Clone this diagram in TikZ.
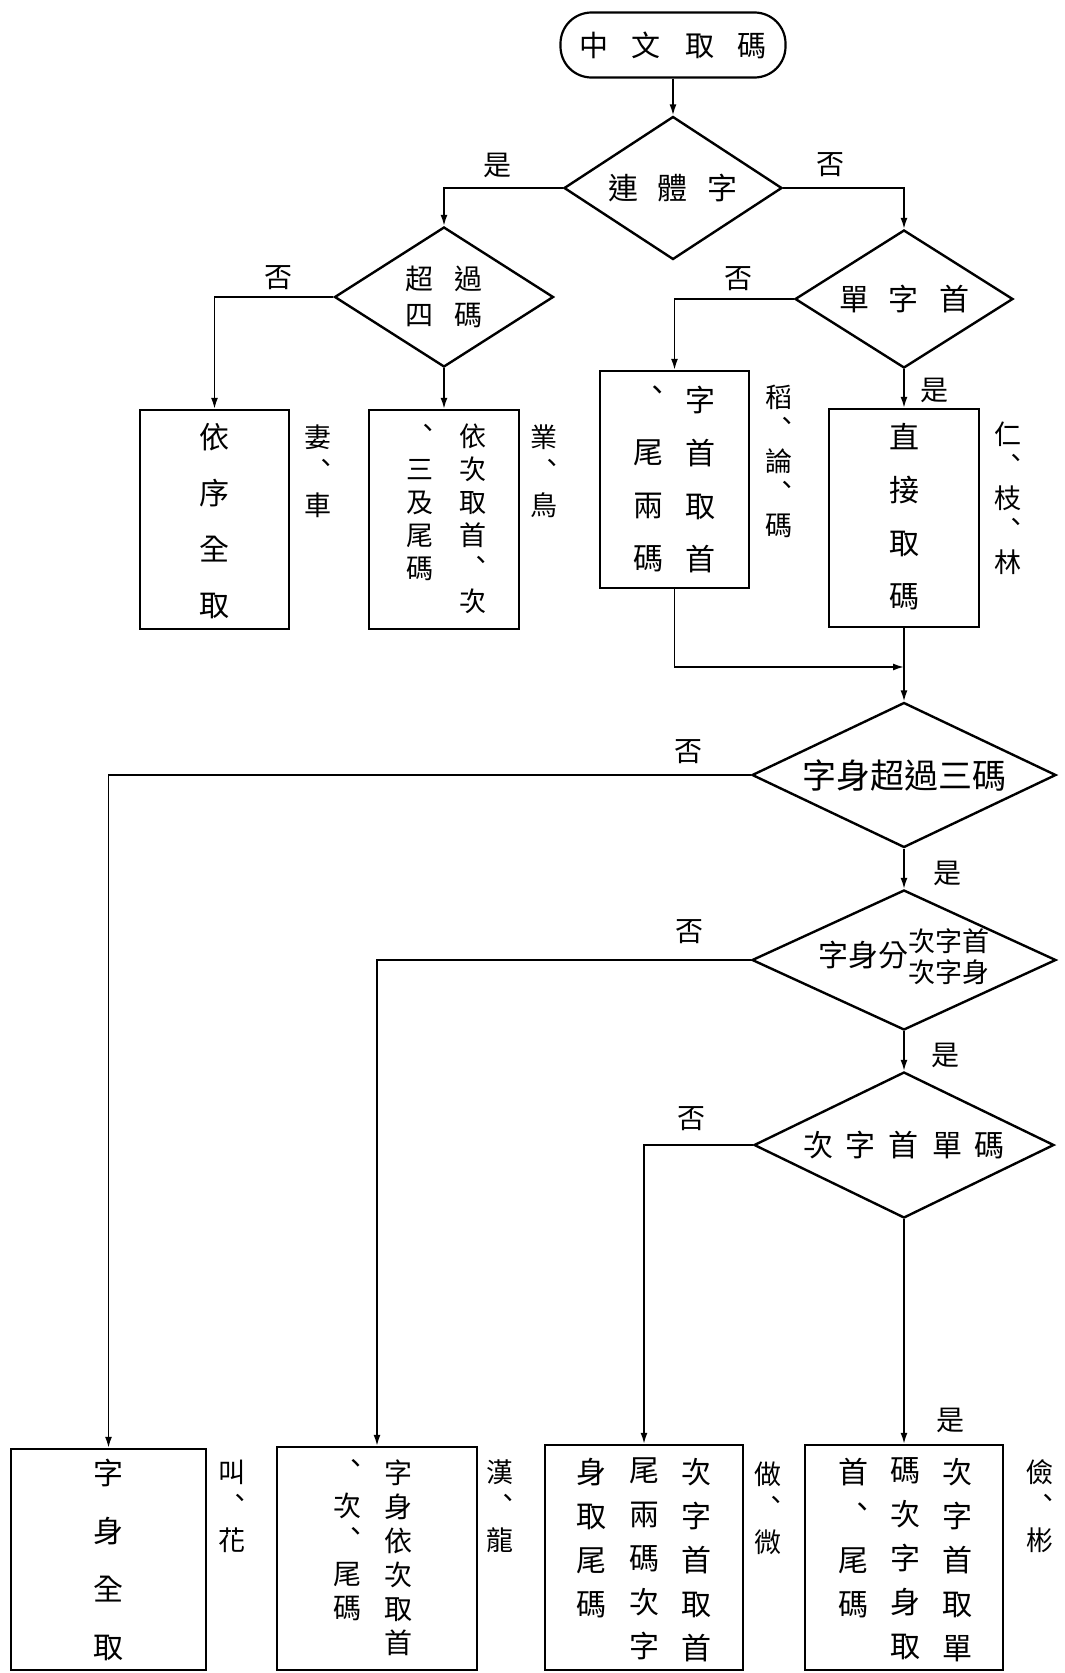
\documentclass[tikz,border=0pt]{standalone}
\usepackage{fontspec}
\newfontfamily\cjk{Noto Sans CJK TC}
\usetikzlibrary{arrows.meta,shapes.geometric}
\newcommand\cgap{\hspace{20pt}}
\newcommand\stackpair[2]{\begingroup\renewcommand\arraystretch{0.82}%
  \begin{tabular}{@{}c@{}}\fontsize{27}{28}\selectfont #1\\\fontsize{27}{28}\selectfont #2\end{tabular}\endgroup}

\begin{document}
\begin{tikzpicture}[x=1pt,y=-1pt,line width=1.6pt,
  flow/.style={-{Latex[length=11pt,width=7pt]}},
  term/.style={draw, line width=2.2pt, rounded corners=31pt, minimum width=225, minimum height=65, inner sep=0pt},
  decision/.style={diamond, draw, line width=2.4pt, inner sep=0pt},
  dtext/.style={inner sep=0pt, align=center, font=\cjk\fontsize{30}{34}\selectfont},
  procbox/.style={draw, line width=2.4pt, inner sep=0pt},
  vcol/.style 2 args={inner sep=0pt, anchor=north, align=center, font=\cjk\fontsize{#1}{#2}\selectfont},
  note/.style={vcol={27}{34}},
  yesno/.style={inner sep=0pt, font=\cjk\fontsize{28}{30}\selectfont}]
          \useasboundingbox (0,0) rectangle (1065,1673);
          % start and decisions
          \node[term, font=\cjk\fontsize{29}{32}\selectfont] (start) at (673,45) {中\hspace{24pt}文\hspace{24pt}取\hspace{24pt}碼};
          \node[decision, minimum width=218, minimum height=143, label={[dtext]center:連\cgap 體\cgap 字}] (d1) at (673,188) {};
          \node[decision, minimum width=219, minimum height=140, label={[dtext, font=\cjk\fontsize{28}{36}\selectfont]center:超\hspace{21pt}過\\四\hspace{21pt}碼}] (d2) at (444,297) {};
          \node[decision, minimum width=218, minimum height=138, label={[dtext]center:單\cgap 字\cgap 首}] (d3) at (904,299) {};
          \node[decision, minimum width=304, minimum height=145, label={[dtext, font=\cjk\fontsize{34}{36}\selectfont]center:字身超過三碼}] (d4) at (904,775) {};
          \node[decision, minimum width=304, minimum height=140, label={[dtext]center:字身分\stackpair{次字首}{次字身}}] (d5) at (904,960) {};
          \node[decision, minimum width=300, minimum height=146, label={[dtext]center:次\hspace{13pt}字\hspace{13pt}首\hspace{13pt}單\hspace{13pt}碼}] (d6) at (904,1145) {};
          % boxes
          \node[procbox, minimum width=149, minimum height=219] (ba) at (214.5,519.5) {};
          \node[procbox, minimum width=150, minimum height=219] (bb) at (444,519.5) {};
          \node[procbox, minimum width=149, minimum height=217] (bc) at (674.5,479.5) {};
          \node[procbox, minimum width=150, minimum height=218] (bd) at (904,518) {};
          \node[procbox, minimum width=195, minimum height=221] (be) at (108.5,1559.5) {};
          \node[procbox, minimum width=200, minimum height=223] (bf) at (377,1558.5) {};
          \node[procbox, minimum width=198, minimum height=225] (bg) at (644,1557.5) {};
          \node[procbox, minimum width=198, minimum height=225] (bh) at (904,1557.5) {};
          % box texts, read top to bottom, right column first
          \node[vcol={30}{56}] (ta) at (214.5,423) {依\\序\\全\\取};
          \node[vcol={27}{33}] (tb1) at (473,423) {依\\次\\取\\首\\︑\\次};
          \node[vcol={27}{33}] (tb2) at (420,423) {︑\\三\\及\\尾\\碼};
          \node[vcol={30}{53}] (tc1) at (700,385) {字\\首\\取\\首};
          \node[vcol={30}{53}] (tc2) at (648,385) {︑\\尾\\兩\\碼};
          \node[vcol={30}{53}] (td) at (904,422) {直\\接\\取\\碼};
          \node[vcol={30}{58}] (te) at (108.5,1458) {字\\身\\全\\取};
          \node[vcol={28}{34}] (tf1) at (398,1459) {字\\身\\依\\次\\取\\首};
          \node[vcol={28}{34}] (tf2) at (347,1459) {︑\\次\\︑\\尾\\碼};
          \node[vcol={30}{44}] (tg1) at (696,1457) {次\\字\\首\\取\\首};
          \node[vcol={30}{44}] (tg2) at (644,1457) {尾\\兩\\碼\\次\\字};
          \node[vcol={30}{44}] (tg3) at (591,1457) {身\\取\\尾\\碼};
          \node[vcol={30}{44}] (th1) at (957,1457) {次\\字\\首\\取\\單};
          \node[vcol={30}{44}] (th2) at (905,1457) {碼\\次\\字\\身\\取};
          \node[vcol={30}{44}] (th3) at (853,1457) {首\\︑\\尾\\碼};
          % examples beside the boxes
          \node[note] (na) at (318,424) {妻\\︑\\車};
          \node[note] (nb) at (544,424) {業\\︑\\鳥};
          \node[vcol={27}{32}] (nc) at (779,384) {稻\\︑\\論\\︑\\碼};
          \node[vcol={27}{32}] (nd) at (1008,421) {仁\\︑\\枝\\︑\\林};
          \node[note] (ne) at (232,1459) {叫\\︑\\花};
          \node[note] (nf) at (500,1459) {漢\\︑\\龍};
          \node[note] (ng) at (768,1461) {做\\︑\\微};
          \node[note] (nh) at (1040,1459) {儉\\︑\\彬};
          % yes / no
          \node[yesno] (y1) at (497,165) {是};
          \node[yesno] (n1) at (830,165) {否};
          \node[yesno] (n2) at (278,278) {否};
          \node[yesno] (n3) at (738,279) {否};
          \node[yesno] (y3) at (934,390) {是};
          \node[yesno] (n4) at (688,752) {否};
          \node[yesno] (y4) at (947,873) {是};
          \node[yesno] (n5) at (689,932) {否};
          \node[yesno] (y5) at (945,1055) {是};
          \node[yesno] (n6) at (691,1119) {否};
          \node[yesno] (y6) at (950,1420) {是};
          \coordinate (join) at (904,667);
          % connectors
          \draw[flow] (start) -- (d1);
          \draw[flow] (d1.west) -| (d2.north);
          \draw[flow] (d1.east) -| (d3.north);
          \draw[flow] (d2.west) -| (ba.north);
          \draw[flow] (d2.south) -- (bb.north);
          \draw[flow] (d3.west) -| (bc.north);
          \draw[flow] (d3.south) -- (bd.north);
          \draw[flow] (bc.south) |- (join);
          \draw[flow] (bd.south) -- (d4.north);
          \draw[flow] (d4.west) -| (be.north);
          \draw[flow] (d4.south) -- (d5.north);
          \draw[flow] (d5.west) -| (bf.north);
          \draw[flow] (d5.south) -- (d6.north);
          \draw[flow] (d6.west) -| (bg.north);
          \draw[flow] (d6.south) -- (bh.north);
        \end{tikzpicture}
\end{document}
